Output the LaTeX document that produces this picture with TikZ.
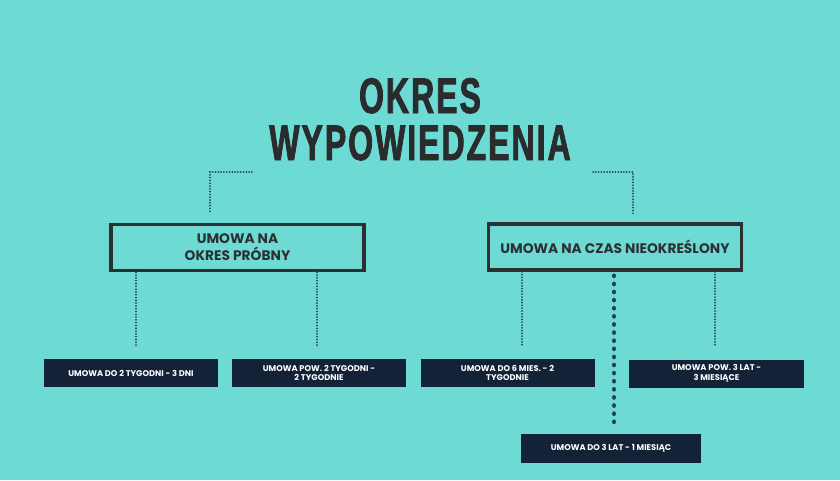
\documentclass[tikz,border=0pt]{standalone}
\usepackage{fontspec}
\setmainfont{Poppins}
\newfontfamily\titlefont[FakeStretch=0.64,FakeBold=1.6,LetterSpace=4]{Liberation Sans}
\definecolor{bg}{HTML}{6DDBD3}
\definecolor{navy}{HTML}{142238}
\definecolor{boxline}{HTML}{2C3033}
\definecolor{titlecol}{HTML}{2A2B2D}
\definecolor{dotcol}{HTML}{1F4552}
\tikzset{
    bigbox/.style={draw=boxline,line width=3.5pt,minimum width=253pt,minimum height=46pt,inner sep=0pt,
        font=\fontsize{13.8}{17}\selectfont\bfseries,text=boxline,align=center},
    smallbox/.style={fill=navy,minimum width=174pt,minimum height=28pt,inner sep=0pt,
        font=\fontsize{8.3}{9.5}\selectfont\bfseries,text=white,align=center},
    titletext/.style={font=\titlefont\fontsize{50}{50}\selectfont\bfseries,text=titlecol,anchor=base},
    finedots/.style={draw=dotcol,line width=1.8pt,line cap=round,dash pattern=on 0.1pt off 2.7pt},
    bigdots/.style={draw=dotcol,line width=4.6pt,line cap=round,dash pattern=on 0.1pt off 8.01pt}
}
\begin{document}
\begin{tikzpicture}[x=1pt,y=-1pt]
        \fill[bg] (0,0) rectangle (840,480);
        \useasboundingbox (0,0) rectangle (840,480);
        % title
        \node[titletext] (title1) at (420,113) {OKRES};
        \node[titletext] (title2) at (420,160) {WYPOWIEDZENIA};
        % contract types
        \node[bigbox] (okres) at (237.5,247.5) {UMOWA NA\\OKRES PRÓBNY};
        \node[bigbox] (nieok) at (615,247) {UMOWA NA CZAS NIEOKREŚLONY};
        % notice periods
        \node[smallbox] (b1) at (131,373) {UMOWA DO 2 TYGODNI - 3 DNI};
        \node[smallbox] (b2) at (319,373) {UMOWA POW. 2 TYGODNI -\\2 TYGODNIE};
        \node[smallbox] (b3) at (507.5,373) {UMOWA DO 6 MIES. - 2\\TYGODNIE};
        \node[smallbox,minimum width=175pt] (b4) at (716.5,373.5) {UMOWA POW. 3 LAT -\\3 MIESIĄCE};
        \node[smallbox,minimum width=180pt,minimum height=29pt] (b5) at (611,448.5) {UMOWA DO 3 LAT - 1 MIESIĄC};
        % connectors
        \coordinate (tl) at (252,172);
        \coordinate (tr) at (593,172);
        \draw[finedots] (tl) -| ([xshift=-27.5pt,yshift=11pt]okres.north);
        \draw[finedots] (tr) -| ([xshift=18pt,yshift=9pt]nieok.north);
        \foreach \b/\dx/\up in {b1/5/okres, b2/-2/okres, b3/14.5/nieok, b4/-1.5/nieok}{
            \path (\b.north) ++(\dx,-12) coordinate (end);
            \draw[finedots] (end |- \up.south) -- (end);
        }
        \path (b5.north) ++(3,-12) coordinate (mid);
        \draw[bigdots,shorten <=4pt] (mid |- nieok.south) -- (mid);
    \end{tikzpicture}
\end{document}
